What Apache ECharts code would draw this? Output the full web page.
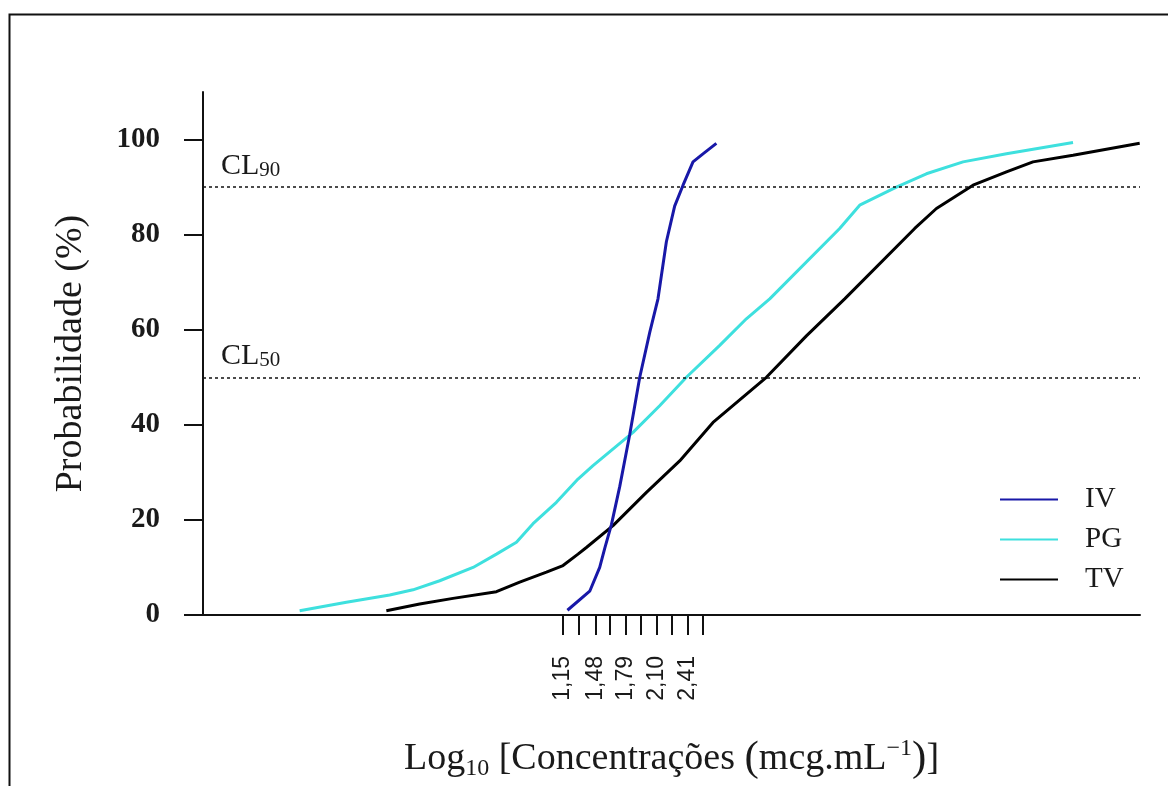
<!DOCTYPE html>
<html>
<head>
<meta charset="utf-8">
<script src="https://cdn.jsdelivr.net/npm/echarts@6/dist/echarts.min.js"></script>
<style>
html,body{margin:0;padding:0;background:#fff;}
#chart{width:1168px;height:786px;}
</style>
</head>
<body>
<div id="chart"></div>
<script>
// ---- Data (x: log10 concentration, y: probability %) ----
const seriesNames = ['IV', 'PG', 'TV'];
const ivData = [[1.195,1],[1.421,5],[1.522,10],[1.573,14],[1.641,19],[1.725,27],[1.827,38],[1.928,50],[2.030,59.5],[2.113,66.5],[2.198,78.5],[2.282,86],[2.367,90.4],[2.468,95.3],[2.569,97],[2.705,99.2]];
const pgData = [[-1.520,0.9],[-1.046,2.7],[-0.607,4.2],[-0.371,5.3],[-0.100,7.2],[0.238,10],[0.475,12.8],[0.678,15.3],[0.846,19.2],[1.083,23.7],[1.302,28.6],[1.454,31.4],[1.860,38.4],[2.130,44],[2.401,50],[2.739,56.7],[3.009,62.3],[3.246,66.5],[3.955,81.3],[4.158,86.2],[4.530,90],[4.834,92.8],[5.206,95.3],[5.646,97],[6.321,99.4]];
const tvData = [[-0.641,0.9],[-0.303,2.3],[0.035,3.5],[0.475,4.9],[0.711,6.9],[0.982,9.0],[1.150,10.4],[1.302,12.8],[1.387,14.2],[1.657,18.8],[1.996,25.8],[2.333,32.4],[2.671,40.5],[3.212,50],[3.618,58.7],[4.006,66.5],[4.716,81.3],[4.936,85.5],[5.307,90.4],[5.646,93.2],[5.915,95.3],[6.321,96.7],[6.997,99.2]];
const xTickValues = [1.15,1.31,1.48,1.62,1.79,1.94,2.10,2.25,2.41,2.57];
const xLabelValues = [1.15,1.48,1.79,2.10,2.41];
const xLabelTexts = ['1,15','1,48','1,79','2,10','2,41'];
const yTickValues = [0,20,40,60,80,100];
const refLevels = [90, 50];
const refLabels = ['90', '50'];
const xRange = [-2.5, 7.0];
const yRange = [0, 110];

const colors = {IV: '#1818a8', PG: '#3ee0de', TV: '#000000'};
const serif = 'Liberation Serif';
const ink = '#1a1a1a';

const chart = echarts.init(document.getElementById('chart'), null, {renderer: 'canvas'});

function lineSeries(name, data, z, extra) {
  return Object.assign({
    name: name,
    type: 'line',
    data: data,
    symbol: 'none',
    smooth: false,
    z: z,
    lineStyle: {color: colors[name], width: 3},
    itemStyle: {color: colors[name]},
    emphasis: {disabled: true},
    animation: false
  }, extra || {});
}

const option = {
  animation: false,
  backgroundColor: '#fff',
  graphic: [{
    type: 'rect',
    shape: {x: 9.5, y: 14.5, width: 1300, height: 900},
    style: {fill: 'none', stroke: '#111', lineWidth: 2},
    silent: true
  }],
  grid: {left: 203, right: 28, top: 92, bottom: 170, containLabel: false},
  legend: {
    orient: 'vertical',
    left: 995,
    top: 480,
    itemWidth: 58,
    itemHeight: 14,
    itemGap: 11,
    icon: 'path://M0,0 L58,0 L58,2 L0,2 Z',
    data: seriesNames,
    textStyle: {fontFamily: serif, fontSize: 29, color: ink, padding: [0,0,0,22]},
    selectedMode: false
  },
  xAxis: {
    type: 'value',
    min: xRange[0],
    max: xRange[1],
    splitLine: {show: false},
    axisLine: {show: true, onZero: false, lineStyle: {color: '#111', width: 2}},
    axisTick: {show: true, length: 20, customValues: xTickValues, lineStyle: {color: '#111', width: 2}},
    axisLabel: {
      show: true,
      customValues: xLabelValues,
      rotate: 90,
      margin: 41,
      fontFamily: 'Liberation Sans',
      fontSize: 23,
      color: ink,
      formatter: function (v) {
        let best = 0;
        for (let i = 0; i < xLabelValues.length; i++) {
          if (Math.abs(xLabelValues[i] - v) < Math.abs(xLabelValues[best] - v)) best = i;
        }
        return xLabelTexts[best];
      }
    },
    name: '{n|Log}{s|10}{n| [Concentrações }{p|(}{n|mcg.mL}{u|−1}{p|)}{n|]}',
    nameLocation: 'middle',
    nameGap: 122,
    nameTextStyle: {
      fontFamily: serif, fontSize: 38, color: ink,
      rich: {
        n: {fontFamily: serif, fontSize: 38, color: ink, lineHeight: 44, verticalAlign: 'middle'},
        p: {fontFamily: serif, fontSize: 43, color: ink, lineHeight: 44, verticalAlign: 'middle'},
        s: {fontFamily: serif, fontSize: 24, color: ink, lineHeight: 20, verticalAlign: 'bottom'},
        u: {fontFamily: serif, fontSize: 24, color: ink, lineHeight: 20, verticalAlign: 'top'}
      }
    }
  },
  yAxis: {
    type: 'value',
    min: yRange[0],
    max: yRange[1],
    splitLine: {show: false},
    axisLine: {show: true, onZero: false, lineStyle: {color: '#111', width: 2}},
    axisTick: {show: true, length: 19, customValues: yTickValues, lineStyle: {color: '#111', width: 2}},
    axisLabel: {
      show: true,
      customValues: yTickValues,
      margin: 43,
      fontFamily: serif,
      fontWeight: 'bold',
      fontSize: 29,
      color: ink
    },
    name: 'Probabilidade (%)',
    nameLocation: 'middle',
    nameGap: 113,
    nameRotate: 90,
    nameTextStyle: {fontFamily: serif, fontSize: 38, color: ink}
  },
  series: [
    lineSeries('IV', ivData, 5, {
      markLine: {
        silent: true,
        symbol: ['none', 'none'],
        animation: false,
        lineStyle: {color: '#111', type: [3, 3], width: 1.5},
        label: {
          show: true,
          position: 'insideStartTop',
          distance: [18, 6],
          formatter: function (p) { return '{m|CL}{s|' + refLabels[p.dataIndex] + '}'; },
          rich: {
            m: {fontFamily: serif, fontSize: 30, color: ink, lineHeight: 30, verticalAlign: 'middle'},
            s: {fontFamily: serif, fontSize: 21, color: ink, lineHeight: 14, verticalAlign: 'bottom'}
          }
        },
        emphasis: {disabled: true},
        data: refLevels.map(v => ({yAxis: v}))
      }
    }),
    lineSeries('PG', pgData, 3),
    lineSeries('TV', tvData, 3)
  ]
};

chart.setOption(option);
</script>
</body>
</html>
